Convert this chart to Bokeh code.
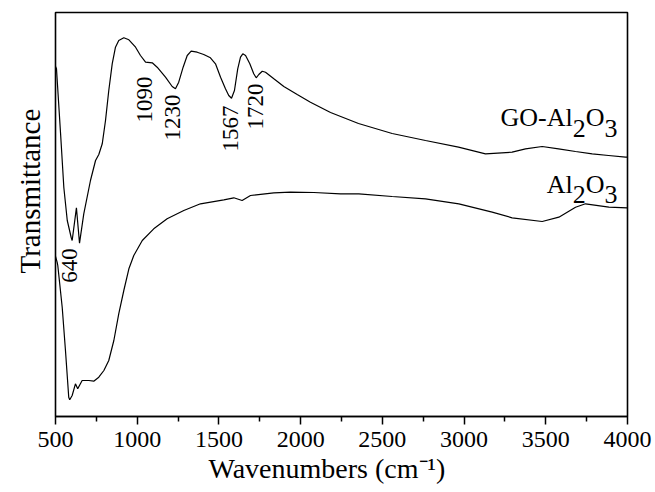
import numpy as np
from bokeh.plotting import figure
from bokeh.models import Range1d, Label, ColumnDataSource, FixedTicker, Title
from bokeh.core.properties import value
from bokeh.embed import file_html
from bokeh.resources import INLINE

# ---------------- data (y in arbitrary transmittance units) ----
go_wn = [500, 506, 531, 551, 572, 596, 602, 628, 647, 673, 714, 745, 765, 786, 806, 826,
         847, 867, 887, 918, 949, 990, 1020, 1051, 1092, 1122, 1173, 1214, 1234, 1254,
         1281, 1306, 1330, 1367, 1407, 1448, 1479, 1510, 1540, 1560, 1577, 1595, 1615,
         1632, 1646, 1663, 1689, 1713, 1728, 1744, 1765, 1785, 1836, 1897, 1979, 2060,
         2183, 2354, 2560, 2764, 2966, 3131, 3294, 3376, 3478, 3578, 3682, 3784, 3884, 3988, 4000]
go_t = [350, 347.7, 283, 229, 196, 179, 176, 208.7, 173.3, 202.7, 236, 256, 262, 272.7, 296,
        326, 352.7, 369.3, 376, 378.7, 376.7, 369.3, 361, 354.3, 353.7, 349.3, 339.3, 330,
        327.7, 334.3, 349.3, 361, 365.3, 364.3, 362, 358.7, 352.7, 339.3, 327.7, 321, 318.3,
        326, 347.7, 359.3, 362.7, 361, 352.7, 342.7, 338.7, 342, 345.3, 344.3, 337.7, 330,
        322, 314.3, 304, 293, 283, 276, 269.3, 262.7, 264.3, 267.7, 270, 267.7, 265, 262.7,
        261, 259.3, 259.3]

al_wn = [500, 510, 514, 541, 561, 581, 587, 602, 622, 636, 663, 704, 734, 765, 796, 826, 857,
         887, 918, 949, 979, 1031, 1101, 1183, 1285, 1387, 1530, 1591, 1642, 1693, 1836,
         1938, 2081, 2244, 2356, 2560, 2764, 2968, 3172, 3294, 3478, 3580, 3682, 3743, 3886,
         3998, 4000]
al_t = [160, 154.3, 151, 109.3, 66, 19.3, 16.7, 21, 32.7, 27.7, 36, 36, 35.3, 39.3, 46, 56,
        76, 102.7, 126, 147.7, 161, 176, 187.7, 197.7, 206, 212.7, 216.7, 218.7, 216, 221,
        223.7, 224.3, 224, 222.7, 222.7, 220, 217.7, 212.7, 204.3, 198.7, 195, 199.3, 209.3,
        212.7, 209.3, 208.7, 208.7]

peak_wn = [640, 1090, 1230, 1567, 1720]
peak_text = ["640", "1090", "1230", "1567", "1720"]

x_major = [500, 1000, 1500, 2000, 2500, 3000, 3500, 4000]
x_minor = [750, 1250, 1750, 2250, 2750, 3250, 3750]

x_title = "Wavenumbers (cm\u207b\u00b9)"
y_title = "Transmittance"

# ---------------- layout / style -------------------------------------------------------
FONT = "Liberation Serif"
W, H = 655, 492
L, R, T, B = 55, 28, 12, 76
X0, X1 = 500, 4000
Y0, Y1 = 0, 404
FW, FH = W - L - R, H - T - B


def sx(px):
    return X0 + (px - L) * (X1 - X0) / FW


def sy(py):
    return Y0 + (T + FH - py) * (Y1 - Y0) / FH


p = figure(width=W, height=H, x_range=Range1d(X0, X1), y_range=Range1d(Y0, Y1),
           output_backend="svg", toolbar_location=None,
           min_border_left=L, min_border_right=R, min_border_top=T, min_border_bottom=B)
p.background_fill_color = "white"
p.border_fill_color = "white"
p.outline_line_color = "black"
p.outline_line_width = 1.6
p.xgrid.visible = False
p.ygrid.visible = False
p.yaxis.visible = False

xa = p.xaxis[0]
xa.ticker = FixedTicker(ticks=x_major, minor_ticks=x_minor)
xa.axis_line_color = "black"
xa.axis_line_width = 1.6
xa.major_tick_in = 0
xa.major_tick_out = 8
xa.minor_tick_in = 0
xa.minor_tick_out = 5
xa.major_tick_line_color = "black"
xa.minor_tick_line_color = "black"
xa.major_tick_line_width = 1.5
xa.minor_tick_line_width = 1.5
xa.major_label_text_font = FONT
xa.major_label_text_font_size = "24px"
xa.major_label_text_color = "black"
xa.major_label_standoff = 7

xtitle = Title(text=x_title, align="left", offset=153, standoff=2,
               text_font=FONT, text_font_size="28px", text_font_style="normal",
               text_color="black")
p.add_layout(xtitle, "below")

ytitle = Title(text=y_title, align="left", offset=143, standoff=19,
               text_font=FONT, text_font_size="29px", text_font_style="normal",
               text_color="black")
p.add_layout(ytitle, "left")

p.line(go_wn, go_t, line_color="black", line_width=1.2)
p.line(al_wn, al_t, line_color="black", line_width=1.2)

# peak labels (rotated)
label_center_py = [265, 99, 117, 128, 106]
label_dx = [-9, -7, -2, 1, 1]
src = ColumnDataSource(dict(x=peak_wn, y=[sy(v) for v in label_center_py],
                            t=peak_text, dx=label_dx))
p.text(x="x", y="y", text="t", source=src, angle=np.pi / 2, x_offset="dx",
       text_align="center", text_baseline="alphabetic",
       text_font=value(FONT), text_font_size=value("23px"), text_color="black")

# chemical formula labels with lowered subscripts
CW = {'G': .722, 'O': .722, '-': .333, 'A': .722, 'l': .278, '2': .5, '3': .5}


def formula(parts, right_px, base_py, size, drop):
    total = sum(CW[c] * size for s, _ in parts for c in s)
    x = right_px - total
    for s, sub in parts:
        py = base_py + (drop if sub else 0)
        p.add_layout(Label(x=sx(x), y=sy(py), text=s, text_align="left",
                           text_baseline="alphabetic", text_font=FONT,
                           text_font_size=f"{size}px", text_color="black"))
        x += sum(CW[c] * size for c in s)


formula([("GO-Al", False), ("2", True), ("O", False), ("3", True)], 617, 117, 26, 10.5)
formula([("Al", False), ("2", True), ("O", False), ("3", True)], 617, 183.7, 26, 10.5)

open("out.html", "w").write(file_html(p, INLINE))
